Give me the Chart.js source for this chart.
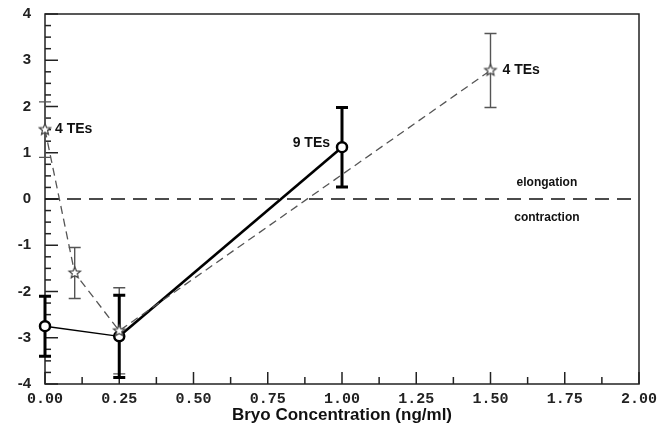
<!DOCTYPE html>
<html>
<head>
<meta charset="utf-8">
<script src="https://cdn.jsdelivr.net/npm/chart.js@4.4.1/dist/chart.umd.min.js"></script>
<style>
  html, body { margin: 0; padding: 0; background: #fff; }
  #wrap { width: 661px; height: 426px; position: relative; }
</style>
</head>
<body>
<div id="wrap"><canvas id="chart"></canvas></div>
<script>
// ---- data ----
const solidX = [0, 0.25, 1.0];
const solidY = [-2.75, -2.97, 1.12];
const solidErr = [0.65, 0.89, 0.86];

const starX = [0, 0.1, 0.25, 1.5];
const starY = [1.5, -1.6, -2.85, 2.78];
const starErr = [0.6, 0.55, 0.93, 0.8];

const zeroX = [0, 2];
const zeroY = [0, 0];

const xTicks = [0, 0.25, 0.5, 0.75, 1.0, 1.25, 1.5, 1.75, 2.0];
const yTicks = [-4, -3, -2, -1, 0, 1, 2, 3, 4];

// text labels: [x, y, text, dx, dy, align]
const notes = [
  [0, 1.5, "4 TEs", 10, 0, "left"],
  [1.0, 1.12, "9 TEs", -12, -4, "right"],
  [1.5, 2.78, "4 TEs", 12, 0, "left"],
  [1.69, 0.35, "elongation", 0, 0, "center"],
  [1.69, -0.4, "contraction", 0, 0, "center"]
];

// five-point hollow star as point image
function makeStar(r) {
  const c = document.createElement("canvas");
  const s = r * 2 + 4;
  c.width = s; c.height = s;
  const g = c.getContext("2d");
  g.beginPath();
  for (let i = 0; i < 10; i++) {
    const rad = i % 2 === 0 ? r : r * 0.45;
    const a = -Math.PI / 2 + i * Math.PI / 5;
    const px = s / 2 + rad * Math.cos(a);
    const py = s / 2 + rad * Math.sin(a);
    if (i === 0) g.moveTo(px, py); else g.lineTo(px, py);
  }
  g.closePath();
  g.fillStyle = "#fff";
  g.fill();
  g.strokeStyle = "#444";
  g.lineWidth = 1.2;
  g.stroke();
  return c;
}
const starImg = makeStar(6);

const toPts = (xs, ys) => xs.map((x, i) => ({ x: x, y: ys[i] }));

// error bars, ticks, frame and labels
const extras = {
  id: "extras",
  beforeDatasetsDraw(chart) {
    const ctx = chart.ctx;
    const xs = chart.scales.x, ys = chart.scales.y;
    const a = chart.chartArea;
    ctx.save();
    // frame
    ctx.strokeStyle = "#222";
    ctx.lineWidth = 1.5;
    ctx.strokeRect(a.left, a.top, a.right - a.left, a.bottom - a.top);
    // y ticks, inward
    ctx.lineWidth = 1.5;
    for (let v = -4; v <= 4.001; v += 0.25) {
      const py = ys.getPixelForValue(v);
      const major = Math.abs(v - Math.round(v)) < 0.01;
      ctx.beginPath();
      ctx.moveTo(a.left, py);
      ctx.lineTo(a.left + (major ? 13 : 6), py);
      ctx.stroke();
    }
    // x ticks, inward
    for (let v = 0; v <= 2.001; v += 0.125) {
      const px = xs.getPixelForValue(v);
      const major = Math.abs(v / 0.25 - Math.round(v / 0.25)) < 0.01;
      ctx.beginPath();
      ctx.moveTo(px, a.bottom);
      ctx.lineTo(px, a.bottom - (major ? 12 : 7));
      ctx.stroke();
    }
    // error bars: dashed series (thin)
    ctx.strokeStyle = "#555";
    ctx.lineWidth = 1.4;
    starX.forEach((x, i) => {
      const px = xs.getPixelForValue(x);
      const t = ys.getPixelForValue(starY[i] + starErr[i]);
      const b = ys.getPixelForValue(starY[i] - starErr[i]);
      ctx.beginPath();
      ctx.moveTo(px, t); ctx.lineTo(px, b);
      ctx.moveTo(px - 6, t); ctx.lineTo(px + 6, t);
      ctx.moveTo(px - 6, b); ctx.lineTo(px + 6, b);
      ctx.stroke();
    });
    // error bars: solid series (thick)
    ctx.strokeStyle = "#000";
    ctx.lineWidth = 3;
    solidX.forEach((x, i) => {
      const px = xs.getPixelForValue(x);
      const t = ys.getPixelForValue(solidY[i] + solidErr[i]);
      const b = ys.getPixelForValue(solidY[i] - solidErr[i]);
      ctx.beginPath();
      ctx.moveTo(px, t); ctx.lineTo(px, b);
      ctx.moveTo(px - 6, t); ctx.lineTo(px + 6, t);
      ctx.moveTo(px - 6, b); ctx.lineTo(px + 6, b);
      ctx.stroke();
    });
    ctx.restore();
  },
  afterDatasetsDraw(chart) {
    const ctx = chart.ctx;
    const xs = chart.scales.x, ys = chart.scales.y;
    ctx.save();
    ctx.fillStyle = "#111";
    ctx.textBaseline = "middle";
    notes.forEach(n => {
      ctx.font = n[2].indexOf("TEs") >= 0 ? "bold 14px 'Liberation Sans', Arial" : "bold 12px 'Liberation Sans', Arial";
      ctx.textAlign = n[5];
      ctx.fillText(n[2], xs.getPixelForValue(n[0]) + n[3], ys.getPixelForValue(n[1]) + n[4]);
    });
    ctx.restore();
  }
};

new Chart(document.getElementById("chart"), {
  type: "scatter",
  data: {
    datasets: [
      {
        data: toPts(zeroX, zeroY),
        showLine: true,
        borderColor: "#111",
        borderWidth: 1.5,
        borderDash: [14, 8],
        pointRadius: 0
      },
      {
        data: toPts(starX, starY),
        showLine: true,
        clip: false,
        borderColor: "#555",
        borderWidth: 1.3,
        borderDash: [8, 5],
        pointStyle: starImg,
        pointRadius: 7
      },
      {
        data: toPts(solidX, solidY),
        showLine: true,
        clip: false,
        borderColor: "#000",
        borderWidth: 2.6,
        segment: { borderWidth: c => (c.p0DataIndex === 0 ? 1.4 : 2.6) },
        pointStyle: "circle",
        pointRadius: 5,
        pointBorderWidth: 2.5,
        pointBackgroundColor: "#fff",
        pointBorderColor: "#000"
      }
    ]
  },
  options: {
    responsive: true,
    maintainAspectRatio: false,
    animation: false,
    layout: { padding: { top: 14, right: 22, left: 0, bottom: 0 } },
    plugins: { legend: { display: false }, tooltip: { enabled: false } },
    scales: {
      x: {
        type: "linear",
        min: 0, max: 2,
        afterBuildTicks: s => { s.ticks = xTicks.map(v => ({ value: v })); },
        afterFit: s => { s.height = 42; s.paddingLeft = 0; s.paddingRight = 0; },
        grid: { display: false, drawTicks: false },
        border: { display: false },
        ticks: {
          padding: 6,
          color: "#222",
          font: { family: "'Liberation Mono', 'DejaVu Sans Mono', monospace", size: 15, weight: "bold" },
          callback: v => v.toFixed(2),
          maxRotation: 0,
          autoSkip: false
        },
        title: {
          display: true,
          text: "Bryo Concentration (ng/ml)",
          color: "#111",
          padding: { top: -2, bottom: 0 },
          font: { family: "'Liberation Sans', Arial, sans-serif", size: 17, weight: "bold" }
        }
      },
      y: {
        min: -4, max: 4,
        afterBuildTicks: s => { s.ticks = yTicks.map(v => ({ value: v })); },
        afterFit: s => { s.width = 45; s.paddingTop = 0; s.paddingBottom = 0; },
        grid: { display: false, drawTicks: false },
        border: { display: false },
        ticks: {
          padding: 14,
          color: "#222",
          font: { family: "'Liberation Sans', Arial, sans-serif", size: 15, weight: "bold" },
          callback: v => String(v)
        }
      }
    }
  },
  plugins: [extras]
});
</script>
</body>
</html>
